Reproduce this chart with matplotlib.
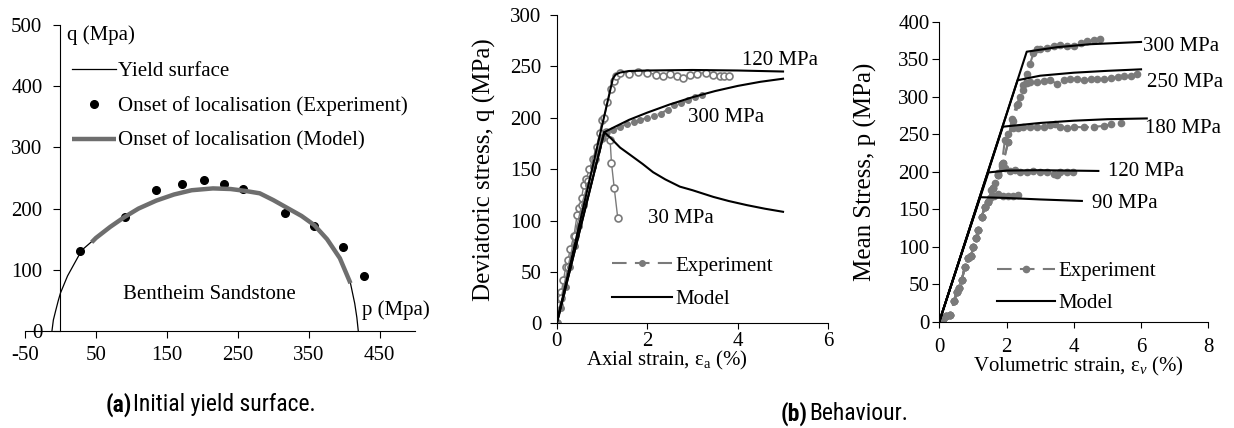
import matplotlib
matplotlib.use('Agg')
import matplotlib.pyplot as plt

plt.rcParams['font.family'] = ['Liberation Serif', 'DejaVu Serif']
plt.rcParams['mathtext.fontset'] = 'custom'
plt.rcParams['mathtext.rm'] = 'Liberation Serif'
plt.rcParams['mathtext.it'] = 'Liberation Serif:italic'
plt.rcParams['font.size'] = 15
plt.rcParams['axes.unicode_minus'] = False

GREY = '#7a7a7a'
FS = 15      # general text
FS_Y = 18    # rotated axis labels

# (a) initial yield surface
yield_p = [-12, -10, -7, -3, 0, 10, 30, 50, 70, 90, 110, 135, 160, 185, 215, 240, 260,
           281, 300, 320, 340, 358, 376, 394, 409, 415, 418, 420]
yield_q = [0, 18, 32, 50, 62, 90, 132, 152, 170, 186, 200, 213, 223, 230, 233, 232, 229,
           225, 214, 201, 188, 173, 150, 119, 78, 45, 22, 0]
model_p = [44, 50, 70, 90, 110, 135, 160, 185, 215, 240, 260, 281, 300, 320, 340, 358, 376, 394, 409]
model_q = [145, 152, 170, 186, 200, 213, 223, 230, 233, 232, 229, 225, 214, 201, 188, 173, 150, 119, 78]
exp_p = [28, 91, 135, 171, 203, 231, 258, 316, 358, 398, 428]
exp_q = [131, 187, 231, 240, 246, 241, 232, 192, 172, 138, 90]

# (b) deviatoric stress vs axial strain
m120_e = [0, 1.24, 1.3, 1.4, 1.6, 2.0, 3.0, 4.0, 5.0]
m120_q = [0, 238, 242, 244, 245.5, 246, 246.5, 246, 245]
m300_e = [0, 1.05, 1.3, 1.6, 2.0, 2.5, 3.0, 3.5, 4.0, 4.5, 5.0]
m300_q = [0, 186, 191.5, 198, 205, 213, 220, 226, 231, 235, 238]
m30_e = [0, 1.05, 1.2, 1.4, 1.62, 1.9, 2.13, 2.4, 2.72, 3.0, 3.46, 3.8, 4.2, 4.6, 5.0]
m30_q = [0, 186, 180, 171, 164, 155, 147, 140, 133, 129.5, 123, 119, 115, 111.5, 108.5]

x120_e = [0, 0.05, 0.1, 0.15, 0.2, 0.25, 0.3, 0.38, 0.45, 0.5, 0.55, 0.6, 0.65, 0.72, 0.8,
          0.88, 0.95, 1.0, 1.05, 1.12, 1.2, 1.26, 1.32, 1.4, 1.6, 1.8, 2.0, 2.2, 2.35, 2.5,
          2.65, 2.8, 2.95, 3.1, 3.3, 3.45, 3.6, 3.7, 3.8]
x120_q = [0, 18, 30, 42, 55, 62, 72, 85, 105, 112, 122, 135, 140, 150, 160, 172, 185, 198,
          200, 215, 228, 236, 241, 244, 243, 245, 244, 242, 241, 243, 241, 239, 242, 243,
          244, 242, 241, 241, 241]
x30_e = [0, 0.1, 0.25, 0.4, 0.55, 0.7, 0.85, 1.0, 1.1, 1.18, 1.21, 1.27, 1.35]
x30_q = [0, 25, 55, 85, 115, 138, 160, 180, 186, 178, 156, 132, 102]
x300_e = [0, 0.1, 0.2, 0.3, 0.4, 0.5, 0.6, 0.7, 0.8, 0.9, 1.0, 1.1, 1.25, 1.4, 1.55, 1.7,
          1.85, 2.0, 2.15, 2.3, 2.45, 2.6, 2.75, 2.9, 3.05, 3.2]
x300_q = [0, 15, 35, 55, 75, 95, 115, 135, 152, 168, 180, 185, 188, 191, 194, 196, 198,
          200, 202, 204, 208, 212, 214, 217, 220, 222]

# (b) mean stress vs volumetric strain
ev_model = {
    '300': ([0, 2.6, 3.5, 4.5, 6.0], [0, 360, 366, 370, 373]),
    '250': ([0, 2.33, 3.0, 4.0, 5.0, 6.0], [0, 322, 328, 332, 334.5, 336.5]),
    '180': ([0, 1.89, 3.0, 4.0, 5.0, 6.17], [0, 260, 265, 268, 270, 271]),
    '120': ([0, 1.46, 2.0, 3.0, 4.73], [0, 199, 201.5, 202, 201]),
    '90': ([0, 1.21, 2.0, 3.0, 4.24], [0, 166, 165, 163, 161]),
}
base_e = [0, 0.1, 0.2, 0.32, 0.45, 0.52, 0.6, 0.67, 0.76, 0.86, 0.95, 1.01, 1.1, 1.16, 1.26, 1.36]
base_p = [0, 4, 8, 9, 28, 40, 45, 56, 73, 85, 88, 100, 112, 122, 140, 153]
ev_exp = {
    '90': ([1.5, 1.62, 1.75, 1.9, 2.05, 2.2, 2.35], [165, 168, 170, 168, 167, 168, 169]),
    '120': ([1.45, 1.55, 1.65, 1.76, 1.86, 1.95, 2.1, 2.25, 2.4, 2.6, 2.8, 3.0, 3.2, 3.4, 3.5,
             3.6, 3.8, 3.98],
            [160, 175, 185, 198, 207, 205, 201, 202, 200, 199, 201, 200, 199, 197, 196, 199,
             200, 200]),
    '180': ([1.45, 1.6, 1.75, 1.86, 1.95, 2.05, 2.2, 2.35, 2.5, 2.7, 2.9, 3.1, 3.3, 3.45, 3.6,
             3.8, 4.0, 4.3, 4.6, 4.9, 5.1, 5.4],
            [160, 178, 195, 210, 242, 250, 258, 258, 259, 260, 260, 259, 262, 263, 260, 258,
             260, 259, 260, 261, 263, 265]),
    '250': ([1.45, 1.6, 1.75, 1.9, 2.05, 2.15, 2.3, 2.4, 2.5, 2.6, 2.7, 2.9, 3.1, 3.3, 3.5,
             3.7, 3.9, 4.1, 4.3, 4.5, 4.7, 4.9, 5.1, 5.3, 5.5, 5.7, 5.87],
            [160, 178, 195, 212, 240, 270, 289, 300, 309, 318, 320, 319, 321, 322, 317, 322,
             324, 324, 322, 323, 323, 324, 325, 326, 328, 327, 330]),
    '300': ([1.45, 1.6, 1.75, 1.9, 2.05, 2.2, 2.35, 2.5, 2.6, 2.7, 2.8, 2.9, 3.0, 3.2, 3.4,
             3.6, 3.8, 4.0, 4.2, 4.4, 4.6, 4.78],
            [160, 178, 195, 212, 240, 268, 290, 315, 330, 344, 358, 363, 364, 365, 368, 369,
             367, 368, 371, 374, 375, 377]),
}
ev_labels = {'300': (6.07, 367), '250': (6.17, 319), '180': (6.13, 258),
             '120': (5.02, 200), '90': (4.54, 158)}

fig = plt.figure(figsize=(12.34, 4.28), dpi=100)
W, H = 1234, 428

# ---- panel (a)
ax = fig.add_axes([25 / W, 97 / H, 390 / W, 306 / H])
ax.plot(yield_p, yield_q, color='black', lw=0.9, label='Yield surface')
ax.plot(exp_p, exp_q, 'o', color='black', ms=5.5, label='Onset of localisation (Experiment)')
ax.plot(model_p, model_q, color='#6e6e6e', lw=3.2, solid_capstyle='butt',
        label='Onset of localisation (Model)')
ax.set_xlim(-50, 500)
ax.set_ylim(0, 500)
ax.set_xticks([-50, 50, 150, 250, 350, 450])
ax.set_yticks([0, 100, 200, 300, 400, 500])
ax.spines['left'].set_position(('data', 0))
ax.spines['bottom'].set_position(('data', 0))
for s in ['top', 'right']:
    ax.spines[s].set_visible(False)
ax.tick_params(axis='y', direction='out', length=5, pad=8, labelsize=FS)
ax.tick_params(axis='x', direction='out', length=5, pad=6, labelsize=FS)
ax.text(9, 484, 'q (Mpa)', ha='left', va='center', fontsize=FS)
ax.text(425, 34, 'p (Mpa)', ha='left', va='center', fontsize=FS)
ax.text(210, 59, 'Bentheim Sandstone', ha='center', va='center', fontsize=FS)
ax.legend(loc='upper left', bbox_to_anchor=(0.12, 0.88), frameon=False, borderpad=0,
          borderaxespad=0, handlelength=2.1, handletextpad=0.12, labelspacing=0.72,
          numpoints=1, fontsize=FS)

# ---- panel (b) left
ax2 = fig.add_axes([556.7 / W, 104.7 / H, 271.6 / W, 308.3 / H])
ax2.plot(x120_e, x120_q, '-', color=GREY, lw=1.0, marker='o', ms=5, mfc='white',
         mec=GREY, mew=1.2)
ax2.plot(x30_e, x30_q, '-', color=GREY, lw=1.0, marker='o', ms=5, mfc='white',
         mec=GREY, mew=1.2)
ax2.plot(x300_e, x300_q, color=GREY, lw=1.5, ls=(0, (7, 4)), marker='o', ms=4,
         label='Experiment')
ax2.plot(m120_e, m120_q, color='black', lw=1.5, label='Model')
ax2.plot(m300_e, m300_q, color='black', lw=1.5)
ax2.plot(m30_e, m30_q, color='black', lw=1.5)
ax2.set_xlim(0, 6)
ax2.set_ylim(0, 300)
ax2.set_xticks([0, 2, 4, 6])
ax2.set_yticks(range(0, 301, 50))
for s in ['top', 'right']:
    ax2.spines[s].set_visible(False)
ax2.tick_params(axis='y', direction='out', length=5, pad=6, labelsize=FS)
ax2.tick_params(axis='x', direction='out', length=4, pad=2, labelsize=FS)
ax2.text(4.1, 256, '120 MPa', ha='left', va='center', fontsize=FS)
ax2.text(2.9, 200, '300 MPa', ha='left', va='center', fontsize=FS)
ax2.text(2.02, 102, '30 MPa', ha='left', va='center', fontsize=FS)
ax2.set_ylabel('Deviatoric stress, q (MPa)', fontsize=FS_Y)
ax2.yaxis.set_label_coords(-0.265, 0.5)
ax2.yaxis.label.set_va('center')
ax2.set_xlabel('Axial strain, ε$_\\mathregular{a}$ (%)', fontsize=FS)
ax2.xaxis.set_label_coords(0.405, -0.119)
ax2.xaxis.label.set_va('center')
ax2.legend(loc='upper left', bbox_to_anchor=(0.2025, 0.218), frameon=False, borderpad=0,
           borderaxespad=0, handlelength=2.9, handletextpad=0.15, labelspacing=0.68,
           fontsize=FS)

# ---- panel (b) right
ax3 = fig.add_axes([939.3 / W, 106.3 / H, 269 / W, 300 / H])
first = True
for k in ['90', '120', '180', '250', '300']:
    e = base_e + ev_exp[k][0]
    p = base_p + ev_exp[k][1]
    ax3.plot(e, p, color=GREY, lw=1.5, ls=(0, (7, 4)), marker='o', ms=4.5,
             label='Experiment' if first else None)
    first = False
first = True
for k in ['90', '120', '180', '250', '300']:
    ax3.plot(ev_model[k][0], ev_model[k][1], color='black', lw=1.5,
             label='Model' if first else None)
    first = False
    ax3.text(ev_labels[k][0], ev_labels[k][1], k + ' MPa', ha='left', va='center', fontsize=FS)
ax3.set_xlim(0, 8)
ax3.set_ylim(0, 400)
ax3.set_xticks([0, 2, 4, 6, 8])
ax3.set_yticks(range(0, 401, 50))
for s in ['top', 'right']:
    ax3.spines[s].set_visible(False)
ax3.tick_params(axis='y', direction='out', length=5, pad=2, labelsize=FS)
ax3.tick_params(axis='x', direction='out', length=4, pad=8, labelsize=FS)
ax3.set_ylabel('Mean Stress, p (MPa)', fontsize=FS_Y)
ax3.yaxis.set_label_coords(-0.276, 0.5)
ax3.yaxis.label.set_va('center')
ax3.set_xlabel('Volumetric strain, ε$_{v}$ (%)', fontsize=FS)
ax3.xaxis.set_label_coords(0.516, -0.15)
ax3.xaxis.label.set_va('center')
ax3.legend(loc='upper left', bbox_to_anchor=(0.213, 0.2), frameon=False, borderpad=0,
           borderaxespad=0, handlelength=2.8, handletextpad=0.15, labelspacing=0.6,
           fontsize=FS)

# captions
cap_font = ['Roboto Condensed', 'Roboto', 'DejaVu Sans']
fig.text(106 / W, 1 - 405 / H, '(a)', fontsize=17, weight='bold', family=cap_font, va='center')
fig.text(133 / W, 1 - 405 / H, 'Initial yield surface.', fontsize=17, family=cap_font, va='center')
fig.text(781 / W, 1 - 414 / H, '(b)', fontsize=17, weight='bold', family=cap_font, va='center')
fig.text(809 / W, 1 - 414 / H, 'Behaviour.', fontsize=17, family=cap_font, va='center')

fig.savefig('out.png', dpi=100)
